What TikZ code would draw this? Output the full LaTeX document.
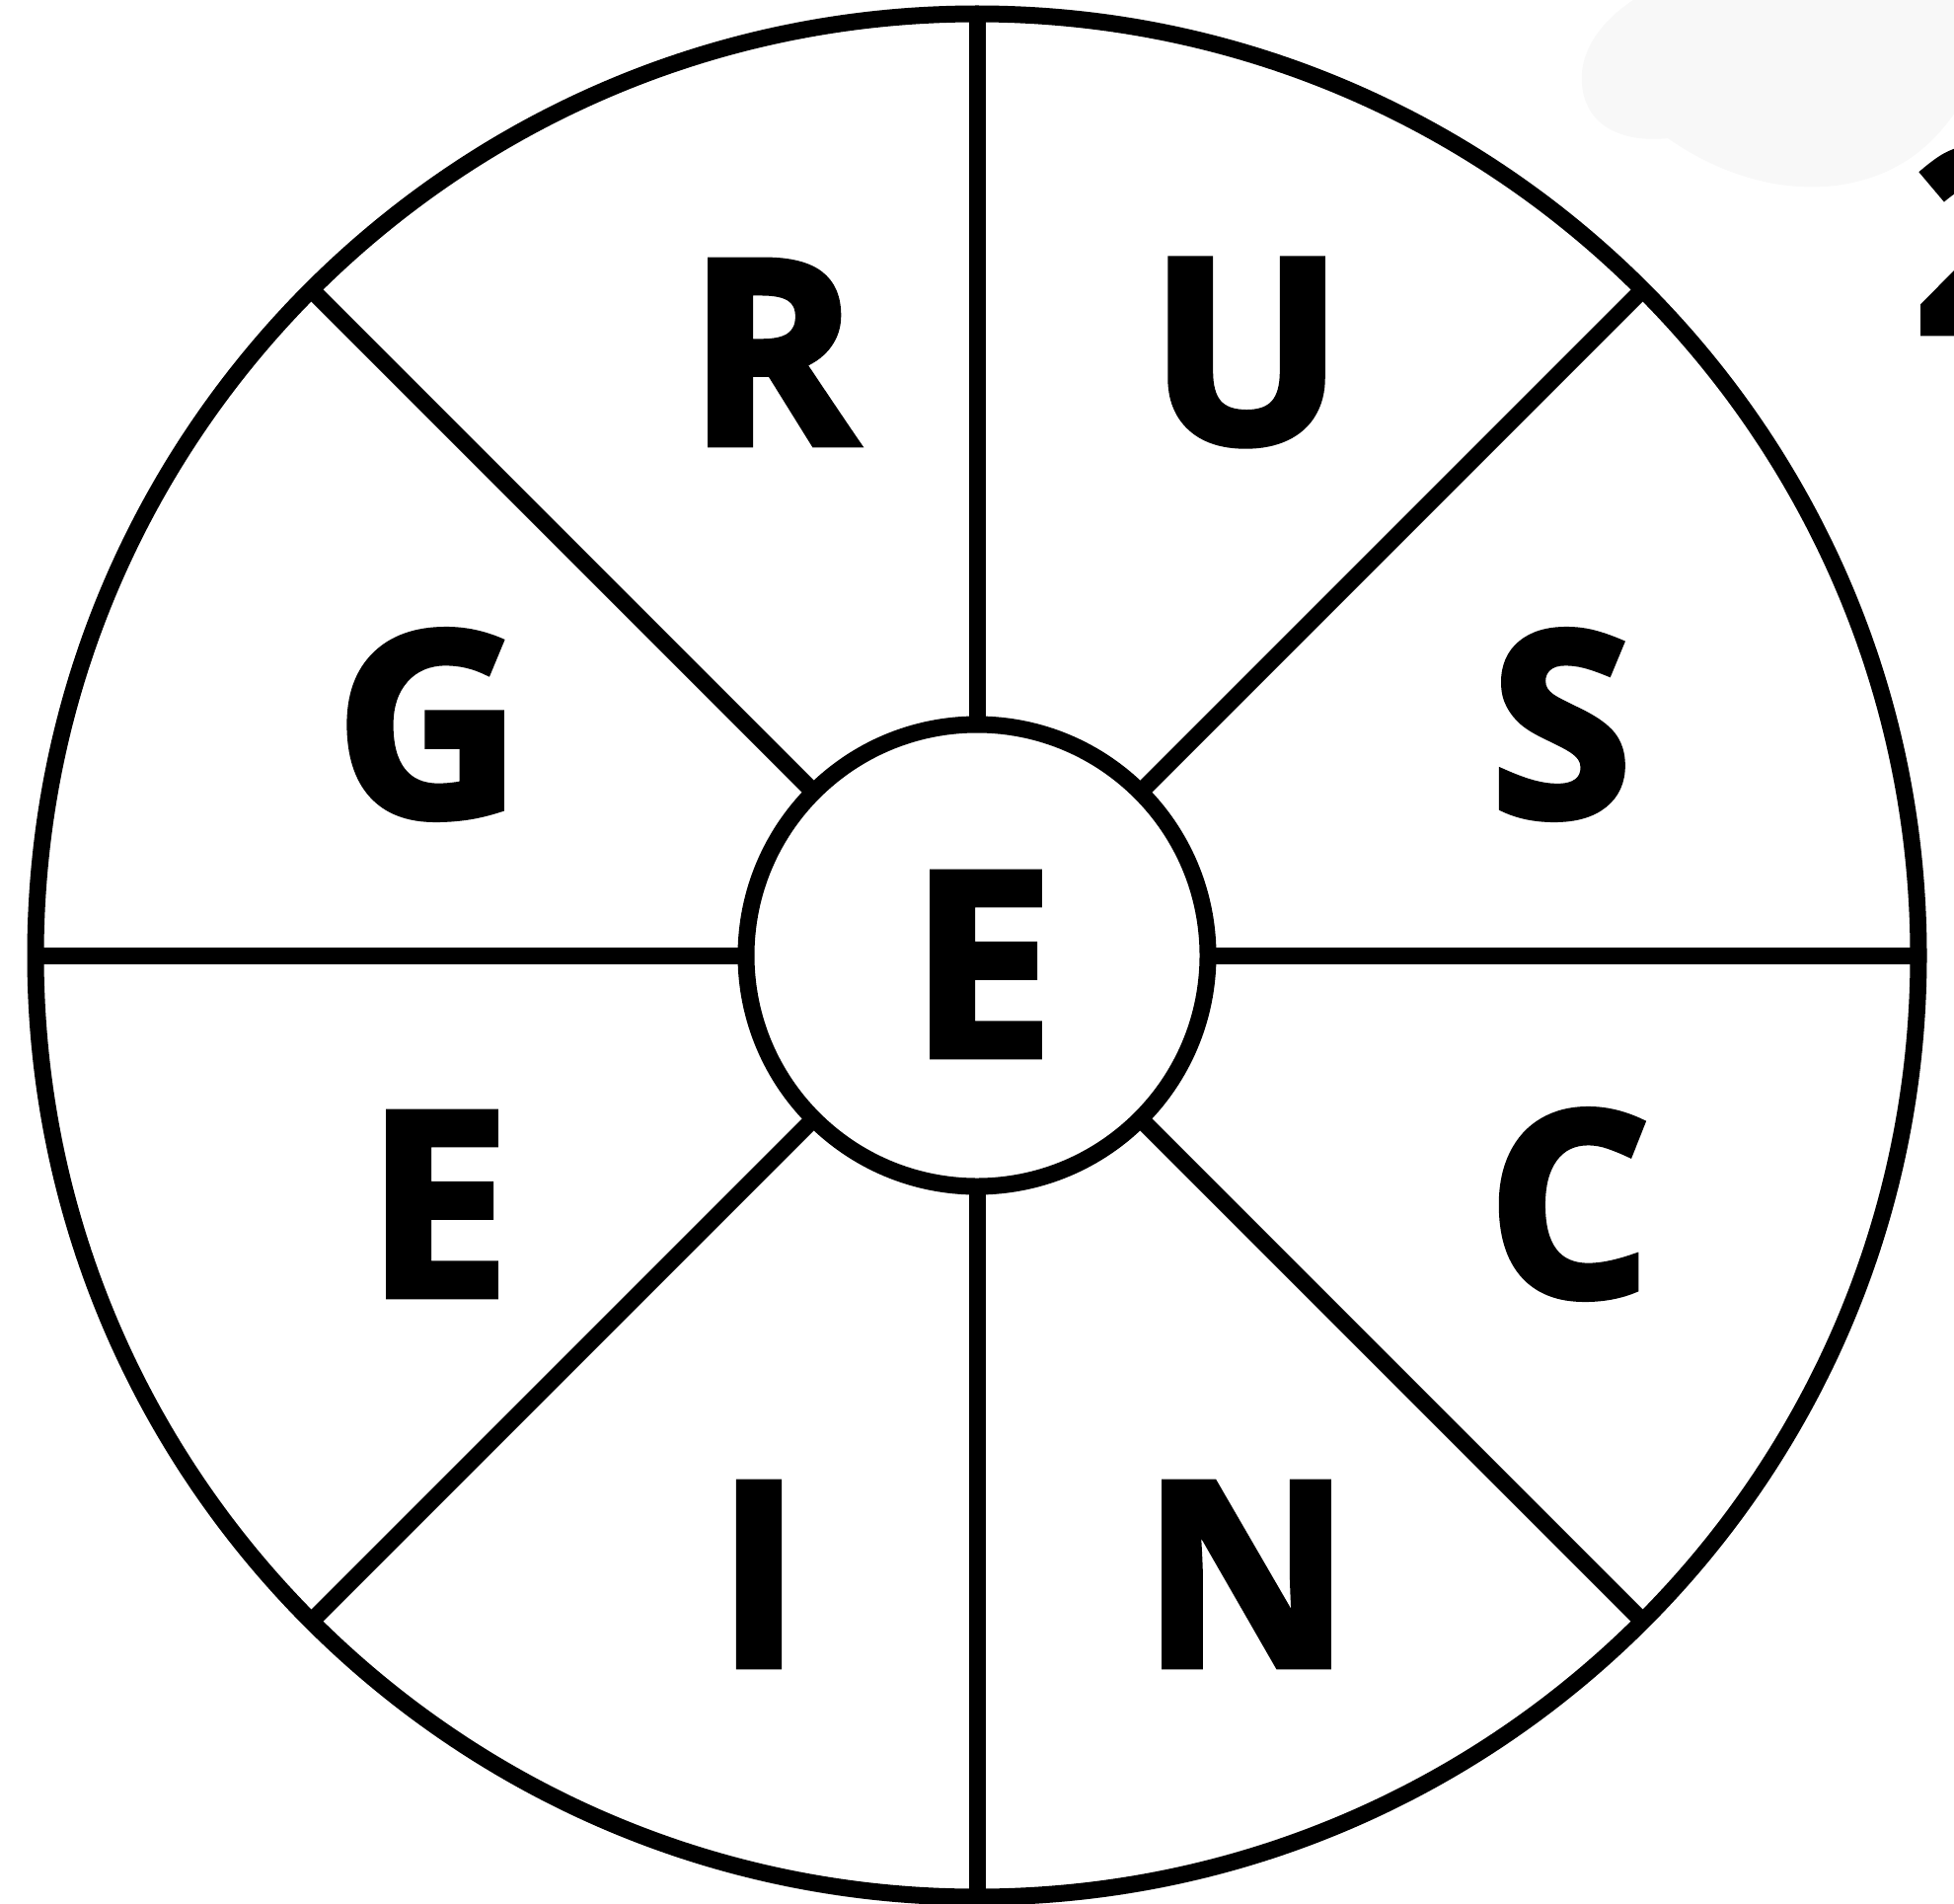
\documentclass[tikz,border=0pt]{standalone}
\usepackage{fontspec}
\newfontfamily\letterfont{Open Sans}[BoldFeatures={FakeBold=2.5}]
\definecolor{blobgray}{HTML}{F8F8F8}
\begin{document}
\begin{tikzpicture}[x=1pt,y=-1pt,
  ring/.style={draw=black,line width=17pt,circle,inner sep=0pt,outer sep=0pt,fill=white},
  spoke/.style={draw=black,line width=17pt},
  letter/.style={inner sep=0pt,outer sep=0pt,font=\letterfont\bfseries\fontsize{261}{261}\selectfont}]
\useasboundingbox[fill=white] (0,0) rectangle (1980,1929);
% light background blob, top right
\fill[blobgray] (1655,0) .. controls (1625,20) and (1600,50) .. (1603,85)
  .. controls (1606,125) and (1640,145) .. (1690,140)
  .. controls (1740,175) and (1800,195) .. (1860,188)
  .. controls (1920,180) and (1960,150) .. (1990,100)
  -- (1990,-10) -- cycle;
\node[letter,anchor=north west] (two) at (1939,148) {2};
\node[ring,minimum size=1908pt] (rim) at (990,968) {};
\node[ring,minimum size=468pt] (hub) at (990,968) {};
\foreach \a in {0,45,...,315}{
  \draw[spoke] (hub.\a) -- (rim.\a);
}
\node[letter] (e0) at (995,977) {E};
\node[letter] (r) at (783,357) {R};
\node[letter] (u) at (1263,357) {U};
\node[letter] (g) at (434,734) {G};
\node[letter] (s) at (1582,734) {S};
\node[letter] (e1) at (444,1220) {E};
\node[letter] (c) at (1590,1220) {C};
\node[letter] (i) at (769,1595) {I};
\node[letter] (n) at (1263,1595) {N};
\end{tikzpicture}
\end{document}
